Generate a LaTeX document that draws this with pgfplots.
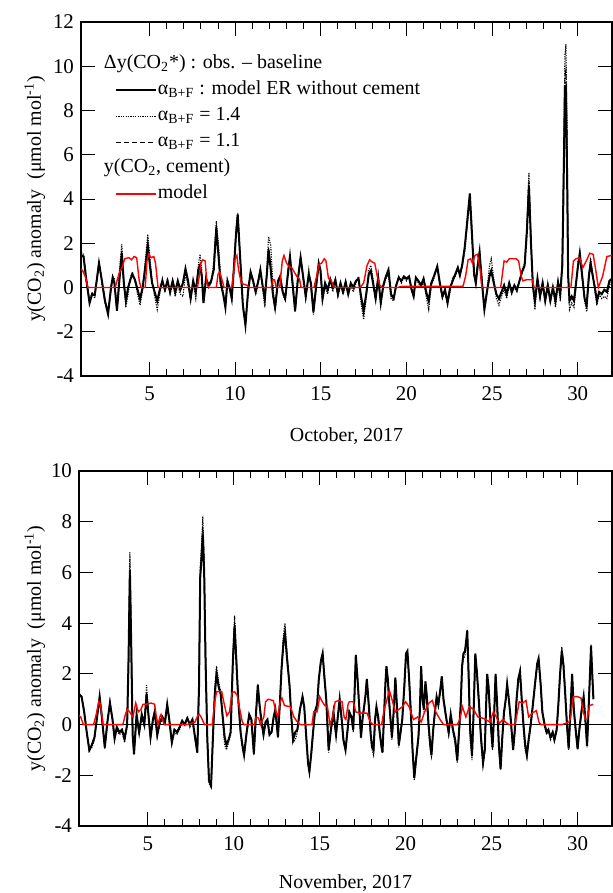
\documentclass[border=0pt]{standalone}
\usepackage{fontspec}
\setmainfont{Liberation Serif}
\usepackage{pgfplots}
\usepackage{pgfplotstable}
\pgfplotsset{compat=1.18}

% October: t = day, a = model ER, b = alpha 1.4, c = alpha 1.1
\pgfplotstableread{
t a b c
1.0 1.45 1.6 1.5
1.15 1.4 1.5 1.4
1.3 0.4 0.5 0.4
1.5 -0.7 -0.6 -0.7
1.65 -0.3 -0.2 -0.3
1.8 -0.35 -0.5 -0.35
1.95 0.5 0.6 0.5
2.05 1.1 1.2 1.1
2.2 0.4 0.3 0.4
2.4 -0.6 -0.7 -0.6
2.58 -1.2 -1.1 -1.2
2.75 0.0 -0.2 0.0
2.85 0.45 0.5 0.45
2.95 0.2 0.4 0.2
3.1 -1.05 -1.0 -1.05
3.25 0.4 0.8 0.5
3.38 1.55 1.95 1.6
3.5 0.2 0.4 0.2
3.62 -0.6 -0.9 -0.65
3.75 0.0 -0.3 0.0
3.9 0.4 0.5 0.4
4.0 0.6 0.7 0.6
4.15 0.35 0.3 0.35
4.3 -0.1 -0.3 -0.1
4.45 -0.5 -0.8 -0.55
4.6 0.0 -0.1 0.0
4.75 0.9 1.2 0.95
4.9 1.9 2.4 2.0
5.02 1.0 1.4 1.1
5.15 0.2 0.3 0.2
5.3 -0.2 -0.4 -0.25
5.45 -0.6 -1.0 -0.65
5.6 -0.1 -0.3 -0.1
5.75 0.3 0.4 0.3
5.9 -0.1 -0.2 -0.1
6.05 0.3 0.4 0.3
6.2 -0.2 -0.3 -0.2
6.35 0.3 0.2 0.3
6.5 -0.2 -0.4 -0.2
6.65 0.3 0.1 0.3
6.8 -0.1 -0.3 -0.1
6.95 0.2 -0.4 0.2
7.1 0.85 0.6 0.85
7.25 0.3 0.1 0.3
7.4 -0.5 -0.55 -0.5
7.55 0.3 0.2 0.3
7.7 -0.2 -0.5 -0.2
7.85 0.8 1.0 0.85
7.95 1.0 1.5 1.1
8.05 0.5 0.8 0.55
8.15 -0.7 -0.6 -0.7
8.3 0.4 0.5 0.4
8.45 0.1 0.0 0.1
8.6 0.3 0.2 0.3
8.75 0.8 1.2 0.9
8.9 2.7 3.0 2.8
9.02 1.5 2.0 1.6
9.15 0.2 0.5 0.3
9.3 -0.3 -0.2 -0.3
9.43 -0.9 -0.8 -0.9
9.55 0.3 0.2 0.3
9.7 -0.1 0.0 -0.1
9.8 -0.5 -0.4 -0.5
9.92 0.8 0.9 0.8
10.05 2.4 2.6 2.5
10.15 3.3 3.35 3.3
10.28 1.5 1.6 1.5
10.45 -0.8 -0.9 -0.8
10.6 -1.7 -1.65 -1.7
10.75 -0.2 -0.3 -0.2
10.9 0.7 0.6 0.7
11.05 0.3 0.2 0.3
11.2 -0.2 -0.3 -0.2
11.35 0.3 0.2 0.3
11.47 0.8 0.7 0.8
11.6 0.1 0.0 0.1
11.73 -0.5 -0.9 -0.55
11.85 0.6 0.8 0.6
11.95 1.7 2.3 1.8
12.08 0.8 1.9 0.9
12.2 -0.3 0.2 -0.3
12.33 -0.9 -1.05 -0.95
12.5 0.3 0.2 0.3
12.62 0.5 0.4 0.5
12.78 -0.2 -0.3 -0.2
12.92 -0.5 -0.6 -0.5
13.08 0.6 0.8 0.7
13.2 1.4 1.45 1.4
13.35 0.2 0.0 0.2
13.5 -1.05 -1.1 -1.05
13.65 0.3 0.2 0.3
13.82 1.35 1.4 1.35
13.95 0.6 0.5 0.6
14.12 -0.4 -0.5 -0.4
14.3 0.6 0.8 0.6
14.42 0.2 0.0 0.2
14.57 -1.1 -1.25 -1.1
14.72 0.0 -0.1 0.0
14.88 1.1 1.0 1.1
14.98 0.8 0.7 0.8
15.1 -0.5 -0.6 -0.5
15.25 0.2 0.0 0.2
15.4 -0.1 -0.3 -0.1
15.55 0.35 0.4 0.35
15.7 0.0 -0.2 0.0
15.85 0.35 0.3 0.35
16.0 -0.3 -0.4 -0.3
16.15 0.2 0.1 0.2
16.3 -0.2 -0.3 -0.2
16.45 0.25 0.15 0.25
16.6 -0.3 -0.35 -0.3
16.75 0.2 0.1 0.2
16.9 0.0 -0.2 0.0
17.05 0.3 0.2 0.3
17.2 0.4 0.5 0.4
17.35 -0.4 -0.7 -0.45
17.5 -1.05 -1.45 -1.1
17.65 -0.3 -0.5 -0.35
17.8 0.6 0.8 0.65
17.92 0.75 1.0 0.8
18.05 0.2 0.4 0.25
18.2 -0.5 -0.6 -0.5
18.35 0.45 0.6 0.45
18.5 -0.7 -0.8 -0.7
18.65 0.1 0.0 0.1
18.8 0.5 0.4 0.5
18.95 0.8 0.6 0.8
19.1 -0.3 -0.5 -0.3
19.25 -0.5 -0.6 -0.5
19.4 0.1 0.0 0.1
19.55 0.45 0.5 0.45
19.7 0.3 0.2 0.3
19.85 0.5 0.45 0.5
20.0 0.4 0.3 0.4
20.15 0.5 0.5 0.5
20.3 -0.1 0.0 -0.1
20.42 -0.4 -0.3 -0.4
20.55 0.45 0.4 0.45
20.7 0.3 0.2 0.3
20.85 0.1 0.0 0.1
21.0 0.4 0.3 0.4
21.15 -0.2 -0.4 -0.2
21.3 -0.6 -1.0 -0.65
21.45 0.2 0.1 0.2
21.6 0.5 0.4 0.5
21.8 0.95 0.9 0.95
21.95 0.2 0.1 0.2
22.1 -0.4 -0.5 -0.4
22.25 -0.1 -0.2 -0.1
22.4 -0.7 -0.75 -0.7
22.55 0.0 -0.2 0.0
22.7 0.3 0.5 0.3
22.85 0.6 0.5 0.6
23.0 0.9 0.8 0.9
23.12 0.55 0.7 0.6
23.25 1.0 0.9 1.0
23.4 1.8 1.6 1.8
23.55 3.0 2.8 3.0
23.7 4.25 3.9 4.2
23.82 2.5 2.2 2.5
23.95 0.6 0.5 0.6
24.05 0.2 0.3 0.2
24.15 0.9 1.1 1.0
24.27 1.6 1.5 1.6
24.4 0.3 0.5 0.3
24.55 -1.0 -0.9 -1.0
24.7 -0.2 -0.1 -0.2
24.85 0.5 1.0 0.6
24.95 0.75 1.3 0.8
25.1 0.2 0.4 0.2
25.25 -0.3 -0.5 -0.3
25.4 -0.5 -0.8 -0.55
25.55 -0.2 -0.4 -0.2
25.7 0.1 -0.1 0.1
25.85 -0.3 -0.5 -0.3
26.0 0.2 0.1 0.2
26.15 -0.2 -0.3 -0.2
26.3 0.1 0.0 0.1
26.45 -0.1 -0.2 -0.1
26.6 0.3 0.3 0.3
26.75 0.7 0.8 0.7
26.9 1.0 1.1 1.0
27.03 2.5 2.8 2.6
27.15 4.6 5.2 4.8
27.27 2.0 2.3 2.1
27.38 0.1 0.0 0.1
27.5 -0.6 -1.0 -0.7
27.65 0.4 0.3 0.4
27.8 -0.4 -0.5 -0.4
27.95 0.2 0.3 0.2
28.1 -0.6 -0.6 -0.6
28.25 0.1 0.2 0.1
28.4 -0.6 -0.7 -0.6
28.55 0.0 0.0 0.0
28.7 -0.6 -0.9 -0.65
28.85 0.25 0.2 0.25
28.98 -0.3 -0.6 -0.35
29.1 1.0 1.5 1.2
29.2 6.0 7.0 6.5
29.25 9.1 10.5 9.6
29.31 9.1 11.0 9.8
29.38 5.0 7.0 6.0
29.44 0.5 1.0 0.6
29.52 -0.6 -1.0 -0.7
29.65 -0.4 -0.7 -0.45
29.78 -0.6 -0.9 -0.65
29.9 0.2 0.0 0.2
30.02 1.0 1.2 1.1
30.12 1.55 1.4 1.55
30.25 0.6 0.5 0.6
30.4 -0.5 -0.6 -0.5
30.52 -0.8 -1.1 -0.85
30.65 0.5 0.6 0.5
30.75 1.1 1.3 1.15
30.88 0.5 0.6 0.5
31.0 0.0 -0.2 0.0
31.12 -0.6 -0.8 -0.65
31.25 -0.2 -0.3 -0.2
31.4 -0.3 -0.5 -0.3
31.55 -0.1 -0.4 -0.1
31.7 -0.2 -0.5 -0.2
31.85 0.3 0.1 0.3
32.0 0.4 0.3 0.4
}\octobs

% October: cement model
\pgfplotstableread{
t m
1.0 0.85
1.1 0.75
1.25 0.5
1.4 0.0
3.0 0.0
3.1 0.3
3.25 0.7
3.4 0.9
3.55 1.3
3.8 1.35
3.95 1.25
4.1 1.4
4.25 1.35
4.4 0.3
4.5 0.0
4.75 0.0
4.85 1.2
4.95 1.5
5.1 1.35
5.25 1.4
5.35 1.1
5.5 0.0
7.8 0.0
7.9 0.5
8.0 1.1
8.1 1.25
8.25 1.2
8.35 0.2
8.45 0.0
8.9 0.0
9.0 0.6
9.1 0.7
9.25 0.3
9.35 0.0
9.8 0.0
9.9 0.6
10.0 1.3
10.1 1.45
10.2 0.8
10.35 0.2
10.5 0.15
10.7 0.1
10.85 0.0
12.1 0.0
12.2 0.35
12.3 0.35
12.4 0.0
12.6 0.0
12.75 1.2
12.85 1.45
13.0 1.1
13.15 0.95
13.3 0.9
13.45 0.7
13.6 0.5
13.75 0.4
13.85 0.0
14.6 0.0
14.75 0.5
14.9 1.05
15.05 1.1
15.2 1.3
15.3 1.2
15.45 0.4
15.6 0.35
15.75 0.0
17.3 0.0
17.5 0.2
17.7 1.0
17.85 1.25
18.0 1.15
18.15 1.1
18.3 0.5
18.45 0.1
18.6 0.0
19.5 0.0
19.7 0.05
21.0 0.05
23.3 0.05
23.45 0.5
23.6 1.25
23.75 1.3
23.85 1.1
24.0 1.45
24.15 1.5
24.3 0.8
24.4 0.0
25.5 0.0
25.6 0.6
25.7 1.2
25.85 1.15
26.0 1.3
26.4 1.3
26.55 1.2
26.7 0.5
26.8 0.3
27.0 0.35
27.35 0.35
27.45 0.0
29.6 0.0
29.75 1.2
29.9 1.3
30.1 1.35
30.3 0.9
30.5 1.2
30.7 1.55
30.9 1.5
31.05 0.8
31.2 0.0
31.45 0.5
31.7 1.4
32.0 1.45
}\octmod

% November: t = day, a = model ER, b = alpha 1.4, c = alpha 1.1
\pgfplotstableread{
t a b c
1.0 1.2 1.2 1.2
1.15 1.1 1.1 1.1
1.3 0.5 0.6 0.5
1.45 -0.3 -0.3 -0.3
1.6 -1.0 -1.05 -1.0
1.75 -0.8 -0.9 -0.8
1.9 -0.5 -0.6 -0.5
2.05 0.3 0.2 0.3
2.2 1.1 1.05 1.1
2.33 0.3 0.2 0.3
2.5 -0.9 -0.95 -0.9
2.65 0.1 0.0 0.1
2.8 0.85 0.9 0.85
2.95 0.2 0.1 0.2
3.07 -0.55 -0.6 -0.55
3.2 -0.1 -0.2 -0.1
3.35 -0.3 -0.4 -0.3
3.5 -0.2 -0.3 -0.2
3.65 -0.55 -0.7 -0.6
3.8 0.0 -0.1 0.0
3.88 2.5 2.8 2.6
3.96 6.1 6.8 6.3
4.04 3.0 3.5 3.2
4.12 -0.4 -0.5 -0.4
4.2 -1.15 -1.2 -1.15
4.35 0.4 0.3 0.4
4.5 -0.3 -0.4 -0.3
4.65 0.4 0.3 0.4
4.8 0.0 -0.1 0.0
4.93 1.2 1.55 1.3
5.05 0.3 0.4 0.3
5.16 -0.5 -0.6 -0.5
5.3 0.2 0.1 0.2
5.4 0.5 0.5 0.5
5.55 -0.4 -0.5 -0.4
5.7 0.1 0.0 0.1
5.85 0.3 0.2 0.3
6.0 0.1 0.0 0.1
6.13 0.8 0.75 0.8
6.25 0.2 0.1 0.2
6.4 -0.7 -0.75 -0.7
6.55 -0.2 -0.3 -0.2
6.7 -0.3 -0.4 -0.3
6.85 -0.1 -0.2 -0.1
7.0 0.15 0.1 0.15
7.15 0.0 0.05 0.0
7.3 0.25 0.3 0.25
7.45 0.0 -0.1 0.0
7.6 0.2 0.15 0.2
7.75 -0.5 -0.6 -0.5
7.88 -1.1 -1.1 -1.1
7.98 1.5 1.8 1.6
8.05 5.8 6.2 5.9
8.12 6.5 7.0 6.6
8.2 7.5 8.2 7.8
8.28 6.0 6.5 6.2
8.36 2.5 3.0 2.7
8.46 -0.5 -0.6 -0.5
8.56 -2.2 -2.3 -2.2
8.68 -2.4 -2.5 -2.4
8.8 -0.3 -0.5 -0.3
8.9 1.2 1.5 1.3
9.0 2.0 2.3 2.1
9.12 1.5 1.7 1.5
9.24 1.2 1.3 1.2
9.36 0.3 0.1 0.3
9.47 -0.5 -0.8 -0.5
9.58 -0.8 -1.0 -0.85
9.7 -0.6 -0.7 -0.6
9.82 -0.3 -0.4 -0.3
9.95 2.5 2.8 2.6
10.05 3.9 4.3 4.0
10.15 2.5 2.8 2.6
10.26 1.0 1.1 1.0
10.4 -0.3 -0.4 -0.3
10.5 -0.8 -0.9 -0.8
10.6 -1.2 -1.25 -1.2
10.75 -0.3 -0.4 -0.3
10.9 0.4 0.3 0.4
11.03 0.2 0.1 0.2
11.17 -1.15 -1.2 -1.15
11.3 0.5 0.4 0.5
11.4 1.55 1.6 1.55
11.5 0.8 0.7 0.8
11.6 0.2 0.1 0.2
11.73 -0.4 -0.45 -0.4
11.85 0.1 0.0 0.1
11.96 0.2 0.2 0.2
12.08 -0.4 -0.4 -0.4
12.2 -0.3 -0.3 -0.3
12.32 0.3 0.2 0.3
12.42 0.6 0.5 0.6
12.57 -0.5 -0.5 -0.5
12.68 0.8 0.8 0.8
12.78 2.2 2.3 2.2
12.9 3.3 3.6 3.4
12.98 3.6 4.0 3.7
13.1 2.6 2.8 2.7
13.25 1.5 1.5 1.5
13.35 0.3 0.2 0.3
13.45 -0.6 -0.7 -0.6
13.58 -0.3 -0.6 -0.3
13.7 -0.2 -0.3 -0.2
13.85 0.6 0.5 0.6
14.0 1.1 1.1 1.1
14.1 0.7 0.6 0.7
14.22 -0.5 -0.6 -0.5
14.32 -1.5 -1.6 -1.5
14.4 -1.85 -1.9 -1.85
14.5 -1.2 -1.3 -1.2
14.6 -0.4 -0.5 -0.4
14.72 0.5 0.4 0.5
14.85 0.8 0.7 0.8
14.95 1.8 1.8 1.8
15.07 2.5 2.6 2.5
15.17 2.8 2.8 2.8
15.28 1.8 1.9 1.8
15.38 1.0 1.1 1.0
15.45 0.0 -0.3 0.0
15.52 -1.0 -1.1 -1.0
15.65 -0.2 -0.3 -0.2
15.8 0.5 0.4 0.5
15.95 -0.4 -0.5 -0.4
16.05 0.3 0.2 0.3
16.16 1.0 1.0 1.0
16.28 0.2 0.1 0.2
16.38 -0.6 -0.7 -0.6
16.5 -1.0 -1.0 -1.0
16.62 -0.2 -0.3 -0.2
16.72 0.5 0.45 0.5
16.85 0.3 0.2 0.3
16.95 -0.2 -0.3 -0.2
17.03 1.3 1.3 1.3
17.1 2.75 2.7 2.75
17.2 1.8 1.7 1.8
17.29 0.8 0.7 0.8
17.4 -0.5 -0.55 -0.5
17.5 0.3 0.2 0.3
17.58 0.7 0.6 0.7
17.67 1.2 1.1 1.2
17.74 1.8 1.8 1.8
17.85 0.8 0.7 0.8
17.97 -0.4 -0.6 -0.45
18.05 -0.9 -1.0 -0.9
18.13 -1.0 -1.2 -1.05
18.22 0.2 0.1 0.2
18.3 0.7 0.6 0.7
18.4 0.3 0.2 0.3
18.49 -0.3 -0.4 -0.3
18.58 -0.8 -0.9 -0.8
18.65 -1.1 -1.1 -1.1
18.75 0.5 0.3 0.5
18.82 1.6 1.5 1.6
18.88 2.3 2.3 2.3
18.96 1.8 1.7 1.8
19.05 0.8 0.7 0.8
19.2 -0.5 -0.6 -0.5
19.3 0.5 0.4 0.5
19.4 1.85 1.8 1.85
19.5 0.6 0.5 0.6
19.6 -0.8 -0.9 -0.8
19.7 -0.3 -0.4 -0.3
19.8 0.2 0.1 0.2
19.92 1.5 1.4 1.5
20.02 2.8 2.7 2.8
20.1 2.9 2.85 2.9
20.2 1.8 1.7 1.8
20.3 0.5 0.4 0.5
20.4 -1.0 -1.1 -1.0
20.5 -2.1 -2.2 -2.1
20.6 -1.4 -1.5 -1.4
20.74 -0.5 -0.6 -0.5
20.82 0.5 0.4 0.5
20.9 2.3 2.2 2.3
20.98 1.0 0.9 1.0
21.06 0.6 0.5 0.6
21.15 1.7 1.6 1.7
21.22 1.2 1.1 1.2
21.33 0.0 -0.2 0.0
21.43 -0.8 -1.0 -0.8
21.5 -1.2 -1.25 -1.2
21.6 -0.2 -0.3 -0.2
21.7 0.5 0.4 0.5
21.8 1.1 1.0 1.1
21.9 0.8 0.7 0.8
22.0 1.3 1.2 1.3
22.1 1.9 1.8 1.9
22.2 1.0 0.9 1.0
22.35 0.3 0.2 0.3
22.5 -0.3 -0.4 -0.3
22.62 0.4 0.3 0.4
22.75 -0.2 -0.3 -0.2
22.88 -0.6 -0.8 -0.6
23.0 -1.4 -1.5 -1.4
23.1 -0.3 -0.5 -0.3
23.2 0.8 0.7 0.8
23.28 2.3 2.2 2.3
23.36 2.8 2.6 2.8
23.45 2.9 2.7 2.9
23.52 3.3 3.2 3.3
23.58 3.7 3.75 3.7
23.66 2.0 1.5 2.0
23.75 -0.2 -0.6 -0.3
23.86 -1.2 -1.4 -1.25
23.95 0.5 0.3 0.5
24.05 2.8 2.7 2.8
24.15 2.0 1.9 2.0
24.25 1.0 0.8 1.0
24.38 -0.5 -0.7 -0.5
24.5 -1.5 -1.6 -1.5
24.6 -1.0 -1.1 -1.0
24.68 0.8 0.7 0.8
24.74 2.0 1.9 2.0
24.82 1.5 1.3 1.5
24.92 0.3 0.1 0.3
25.05 -0.9 -1.0 -0.9
25.15 0.5 0.4 0.5
25.23 2.0 1.9 2.0
25.32 0.8 0.6 0.8
25.42 -0.8 -1.0 -0.8
25.52 -1.75 -1.8 -1.75
25.62 -0.5 -0.6 -0.5
25.72 0.5 0.4 0.5
25.82 1.0 0.9 1.0
25.9 1.6 1.5 1.6
26.0 1.0 0.9 1.0
26.1 0.3 0.2 0.3
26.25 -1.0 -1.0 -1.0
26.35 -0.2 -0.3 -0.2
26.45 1.0 0.9 1.0
26.55 1.8 1.7 1.8
26.65 2.1 2.0 2.1
26.75 1.0 0.9 1.0
26.85 0.0 -0.2 0.0
26.95 -0.8 -1.0 -0.8
27.05 -1.2 -1.3 -1.2
27.15 -0.6 -0.7 -0.6
27.27 0.0 -0.1 0.0
27.4 0.8 0.7 0.8
27.52 1.6 1.5 1.6
27.65 2.4 2.3 2.4
27.73 2.6 2.55 2.6
27.85 1.6 1.5 1.6
27.95 0.5 0.4 0.5
28.08 0.0 -0.1 0.0
28.2 -0.3 -0.4 -0.3
28.3 -0.2 -0.2 -0.2
28.42 -0.5 -0.6 -0.5
28.55 -0.3 -0.4 -0.3
28.65 -0.6 -0.65 -0.6
28.78 -0.2 -0.3 -0.2
28.88 0.8 0.7 0.8
28.98 2.0 2.0 2.0
29.08 2.9 3.05 2.95
29.18 2.3 2.5 2.4
29.28 1.2 1.2 1.2
29.38 0.0 -0.1 0.0
29.48 -0.95 -1.0 -0.95
29.58 0.5 0.4 0.5
29.68 2.0 1.9 2.0
29.78 0.6 0.5 0.6
29.9 -0.3 -0.4 -0.3
30.0 -0.95 -1.0 -0.95
30.1 -0.2 -0.3 -0.2
30.22 0.5 0.4 0.5
30.35 1.1 1.0 1.1
30.45 0.2 0.1 0.2
30.55 -0.85 -0.9 -0.85
30.63 0.5 0.4 0.5
30.72 2.0 2.0 2.0
30.78 3.1 3.15 3.1
30.85 2.0 2.0 2.0
30.92 1.0 1.0 1.0
}\novobs

% November: cement model
\pgfplotstableread{
t m
1.0 0.35
1.1 0.3
1.25 0.0
1.85 0.0
2.0 0.4
2.15 0.9
2.25 0.8
2.4 0.0
3.55 0.0
3.7 0.4
3.8 0.6
3.95 0.5
4.14 0.3
4.3 0.85
4.45 0.5
4.6 0.6
4.72 0.8
4.9 0.8
5.2 0.85
5.4 0.8
5.5 0.3
5.6 0.0
5.7 0.3
5.77 0.4
5.9 0.1
5.98 0.0
7.3 0.0
7.5 0.05
7.75 0.1
7.9 0.35
8.0 0.4
8.1 0.3
8.3 0.0
8.75 0.0
8.9 0.9
9.0 1.3
9.3 1.3
9.45 0.8
9.6 0.35
9.75 0.5
9.9 1.25
10.05 1.3
10.2 1.15
10.35 0.6
10.5 0.1
10.6 0.0
11.2 0.0
11.3 0.3
11.45 0.25
11.55 0.0
11.75 0.3
11.85 0.9
12.0 1.0
12.3 0.95
12.45 0.5
12.55 0.3
12.7 0.9
12.8 1.05
12.95 0.75
13.3 0.7
13.5 0.3
13.65 0.15
13.85 0.0
14.55 0.0
14.65 0.5
14.85 0.5
15.0 1.1
15.15 0.9
15.3 0.75
15.45 0.7
15.6 0.0
15.75 0.3
15.9 0.9
16.1 0.95
16.3 0.9
16.42 0.3
16.52 0.2
16.65 0.8
16.72 0.9
16.95 0.9
17.1 0.5
17.35 0.45
17.75 0.45
17.95 0.1
18.1 0.0
18.6 0.0
18.75 0.6
18.9 0.95
19.05 1.35
19.2 1.0
19.4 0.5
19.6 0.6
19.8 0.7
20.0 0.9
20.2 0.7
20.45 0.2
20.7 0.3
20.9 0.1
21.1 0.5
21.35 0.85
21.55 0.95
21.75 0.5
22.0 0.2
22.2 0.0
23.0 0.0
23.15 0.2
23.3 0.7
23.5 0.3
23.7 0.7
23.95 0.6
24.2 0.3
24.5 0.25
24.65 0.2
24.9 0.1
25.1 0.5
25.27 0.3
25.45 0.05
25.65 0.2
25.8 0.1
26.0 0.0
26.35 0.0
26.5 0.5
26.6 0.9
26.8 0.85
27.0 0.95
27.15 0.3
27.35 0.45
27.6 0.55
27.75 0.1
27.85 0.0
29.1 0.0
29.5 0.1
29.6 0.3
29.75 1.1
30.0 1.1
30.2 1.05
30.3 0.6
30.45 0.2
30.55 0.2
30.7 0.75
30.9 0.8
}\novmod

\pgfplotsset{
  co2axis/.style={
    scale only axis, xmin=1, xmax=32,
    xtick={5,10,...,30}, xticklabels={5,10,15,20,25,30},
    minor x tick num=4,
    tick align=inside,
    major tick length=7bp, minor tick length=3.5bp,
    every tick/.style={black, line width=0.5bp},
    axis line style={line width=0.6bp},
    tick label style={font=\rmfamily\fontsize{10.5}{12}\selectfont},
    label style={font=\rmfamily\fontsize{10}{12}\selectfont},
    xticklabel style={yshift=-2bp},
    extra y ticks={0}, extra y tick labels={},
    extra y tick style={grid=major, major grid style={black, line width=0.6bp}},
    ylabel={y(CO\textsubscript{2}) anomaly\ \ (μmol mol\textsuperscript{-1})},
  },
  obsA/.style={black, line width=1bp},
  obsB/.style={black, line width=0.55bp, dash pattern=on 0.6bp off 0.6bp},
  obsC/.style={black, line width=0.55bp, dash pattern=on 2.5bp off 1.5bp},
  cem/.style={red, line width=0.7bp},
}

\begin{document}
\begin{tikzpicture}
\useasboundingbox (0,0) rectangle (306.5bp,-446.5bp);

\begin{axis}[co2axis, at={(40.5bp,-11bp)}, anchor=north west,
  width=265.5bp, height=177bp,
  ymin=-4, ymax=12, ytick={-4,-2,...,12},
  yticklabels={-4,-2,0,2,4,6,8,10,12},
  xlabel={October, 2017},
  xlabel style={at={(axis description cs:0.5,-0.17)}, anchor=center},
  ylabel style={at={(axis description cs:-0.087,0.5)}, anchor=center},
  legend image code/.code={\draw[#1] (0bp,0bp) -- (17bp,0bp); \path (0bp,0bp) -- (20bp,0bp);},
  legend style={at={(axis description cs:0.052,0.93)}, anchor=north west,
    draw=none, fill=none, font=\rmfamily\fontsize{10}{12}\selectfont,
    nodes={inner sep=0.5bp, text height=8bp, text depth=4bp}, row sep=0bp},
  legend cell align=left]
\addplot[obsB, forget plot] table[x=t, y=b] {\octobs};
\addplot[obsC, forget plot] table[x=t, y=c] {\octobs};
\addplot[obsA, forget plot] table[x=t, y=a] {\octobs};
\addplot[cem, forget plot] table[x=t, y=m] {\octmod};
\addlegendimage{empty legend}
\addlegendentry{\hspace*{-27bp}Δy(CO\textsubscript{2}*) : obs. -- baseline}
\addlegendimage{obsA}
\addlegendentry{α\textsubscript{B+F} : model ER without cement}
\addlegendimage{obsB}
\addlegendentry{α\textsubscript{B+F} = 1.4}
\addlegendimage{obsC}
\addlegendentry{α\textsubscript{B+F} = 1.1}
\addlegendimage{empty legend}
\addlegendentry{\hspace*{-27bp}y(CO\textsubscript{2}, cement)}
\addlegendimage{cem}
\addlegendentry{model}
\node[font=\rmfamily\fontsize{11}{13}\selectfont] at (axis description cs:-0.114,1.0) {(a)};
\end{axis}

\begin{axis}[co2axis, at={(39.5bp,-235.5bp)}, anchor=north west,
  width=266.5bp, height=177.5bp,
  ymin=-4, ymax=10, ytick={-4,-2,...,10},
  yticklabels={-4,-2,0,2,4,6,8,10},
  xlabel={November, 2017},
  xlabel style={at={(axis description cs:0.5,-0.16)}, anchor=center},
  ylabel style={at={(axis description cs:-0.083,0.5)}, anchor=center}]
\addplot[obsB] table[x=t, y=b] {\novobs};
\addplot[obsC] table[x=t, y=c] {\novobs};
\addplot[obsA] table[x=t, y=a] {\novobs};
\addplot[cem] table[x=t, y=m] {\novmod};
\node[font=\rmfamily\fontsize{11}{13}\selectfont] at (axis description cs:-0.111,0.994) {(b)};
\end{axis}
\end{tikzpicture}
\end{document}
